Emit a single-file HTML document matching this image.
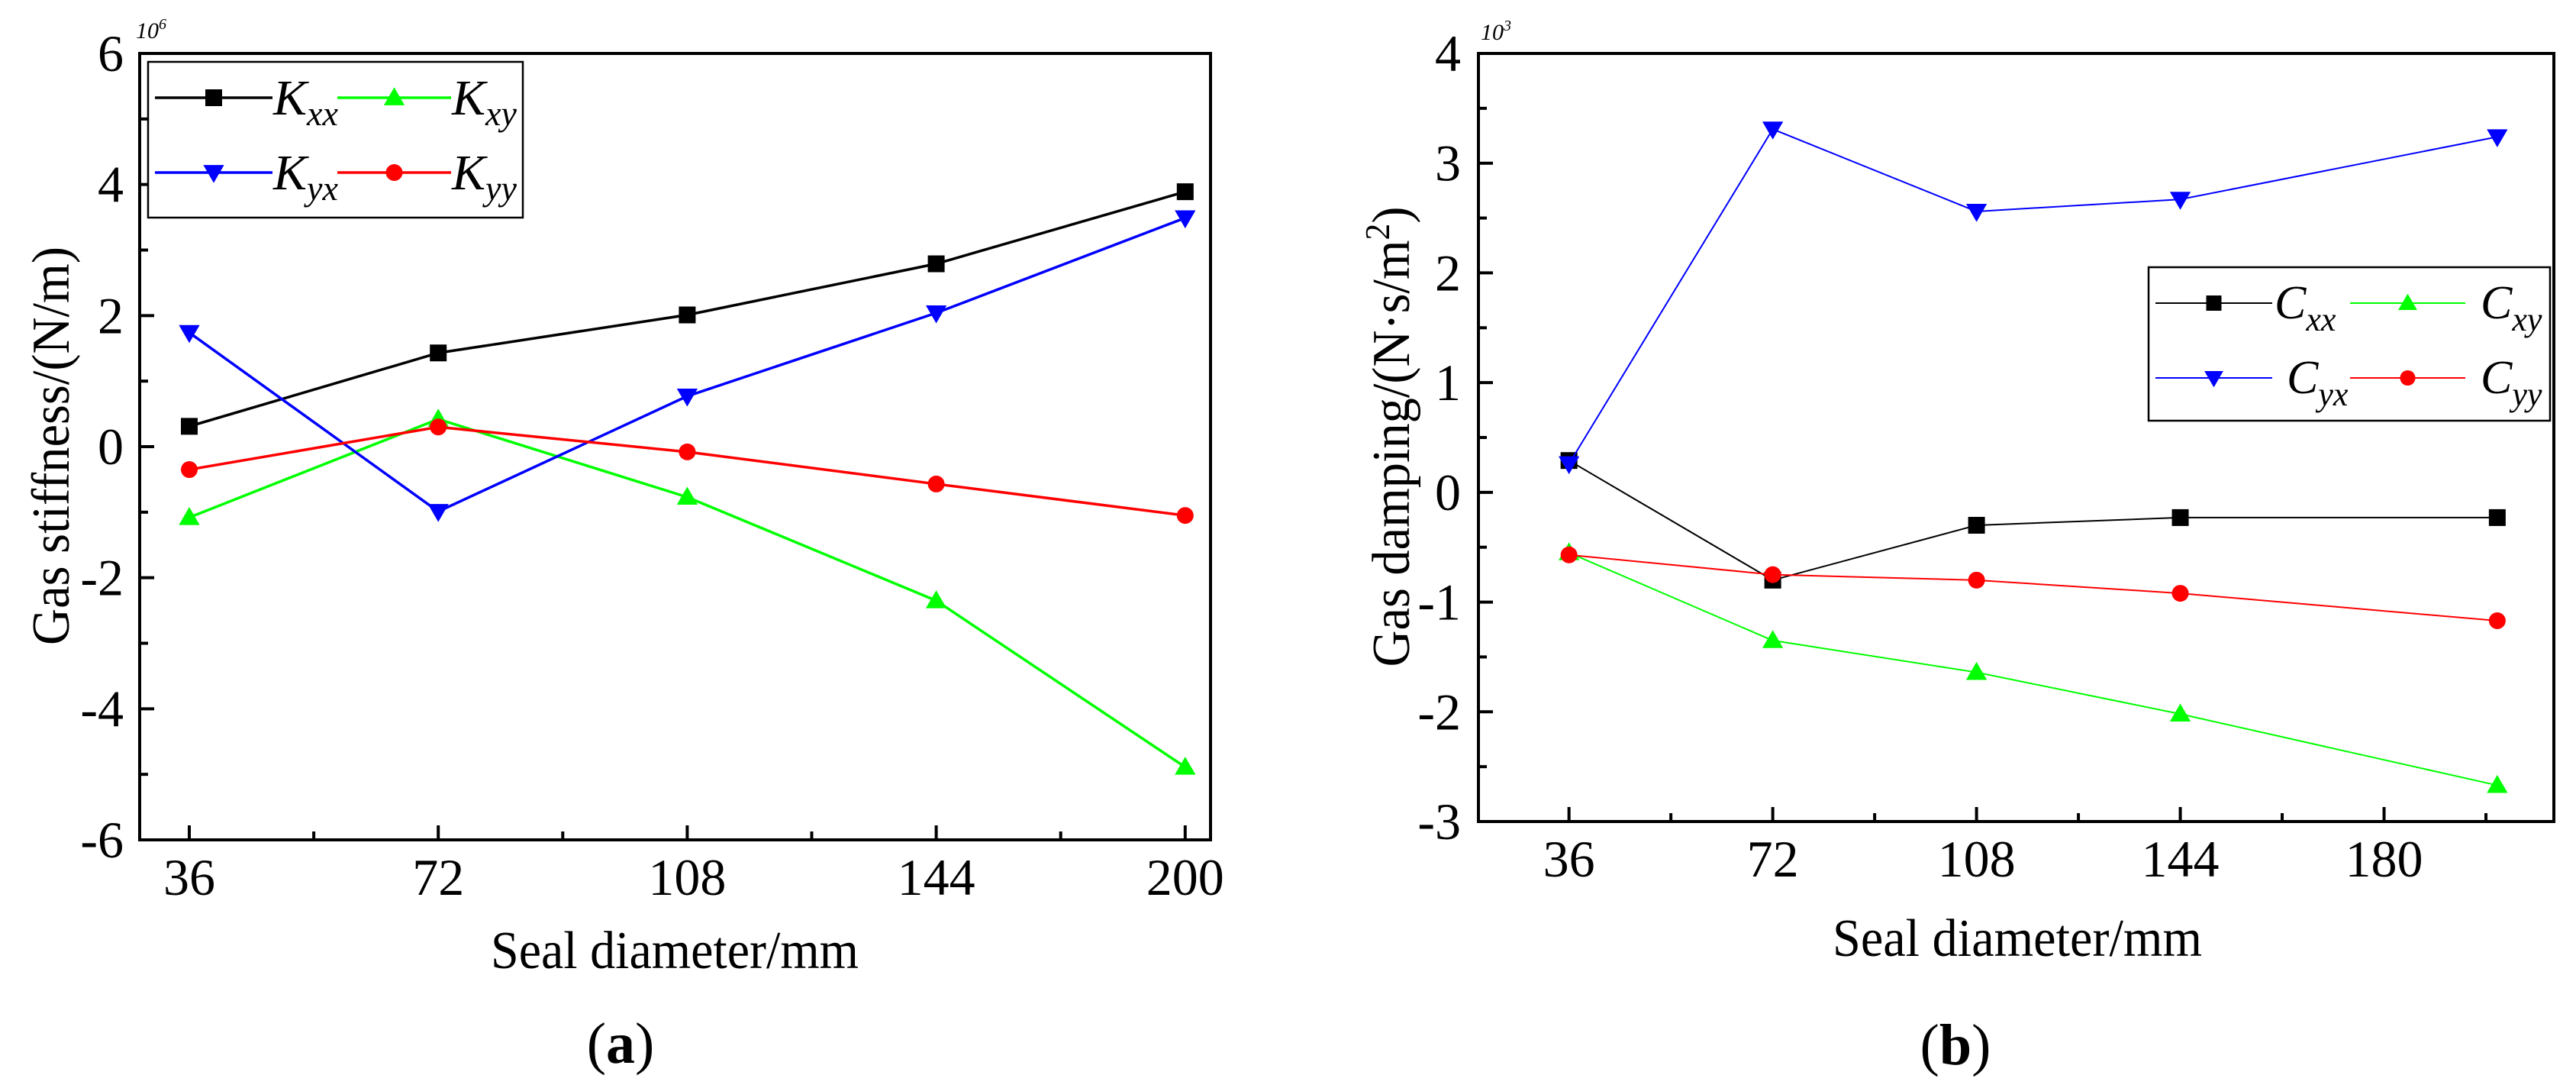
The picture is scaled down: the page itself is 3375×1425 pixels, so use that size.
<!DOCTYPE html>
<html><head><meta charset="utf-8"><style>
html,body{margin:0;padding:0;background:#fff;}
svg{display:block;font-family:"Liberation Serif",serif;}
</style></head><body>
<svg id="svg" width="3375" height="1425" viewBox="0 0 3375 1425" xmlns="http://www.w3.org/2000/svg"></svg>
<script>
// Chart (a) data
const catsA = ["36","72","108","144","200"];
const kxx = [0.31, 1.43, 2.01, 2.79, 3.89];
const kxy = [-1.08, 0.42, -0.77, -2.35, -4.89];
const kyx = [1.74, -0.99, 0.77, 2.04, 3.49];
const kyy = [-0.35, 0.30, -0.08, -0.57, -1.05];
const yTicksA = [6, 4, 2, 0, -2, -4, -6];
// Chart (b) data
const xValsB = [36, 72, 108, 144, 200];
const xTicksB = [36, 72, 108, 144, 180];
const cxx = [0.29, -0.80, -0.30, -0.23, -0.23];
const cxy = [-0.55, -1.35, -1.64, -2.02, -2.67];
const cyx = [0.26, 3.31, 2.56, 2.67, 3.24];
const cyy = [-0.57, -0.75, -0.80, -0.92, -1.17];
const yTicksB = [4, 3, 2, 1, 0, -1, -2, -3];

const NS = "http://www.w3.org/2000/svg";
const svg = document.getElementById("svg");
function mk(tag, attrs, parent) {
  const e = document.createElementNS(NS, tag);
  for (const k in attrs) e.setAttribute(k, attrs[k]);
  (parent || svg).appendChild(e);
  return e;
}
function marker(g, type, x, y, color, s) {
  let e;
  if (type === "sq") e = mk("rect", {x: x - s/2, y: y - s/2, width: s, height: s, fill: color}, g);
  else if (type === "up") e = mk("polygon", {points: `${x},${y - s*0.62} ${x - s*0.62},${y + s*0.45} ${x + s*0.62},${y + s*0.45}`, fill: color}, g);
  else if (type === "down") e = mk("polygon", {points: `${x},${y + s*0.62} ${x - s*0.62},${y - s*0.45} ${x + s*0.62},${y - s*0.45}`, fill: color}, g);
  else e = mk("circle", {cx: x, cy: y, r: s*0.5, fill: color}, g);
  
  
  return e;
}
function text(str, attrs, parent) {
  const t = mk("text", attrs, parent);
  t.textContent = str;
  return t;
}

// ---------- Chart A ----------
const A = {l: 183, r: 1586, t: 70, b: 1100};
const xA = i => 248 + i * 326.2;
const yA = v => A.t + (6 - v) * (A.b - A.t) / 12;
const gA = mk("g", {});



// ticks
yTicksA.forEach(v => {
  const y = yA(v);
  const tk = mk("line", {x1: A.l, x2: A.l + 19, y1: y, y2: y, stroke: "#000", "stroke-width": 4}, gA);
  
  
  const lb = text(String(v), {x: 162, y: y + 23, "text-anchor": "end", "font-size": 68}, gA);
  
  
  if (v > -6) {
    const ym = yA(v - 1);
    const mt = mk("line", {x1: A.l, x2: A.l + 11, y1: ym, y2: ym, stroke: "#000", "stroke-width": 4}, gA);
    
    
  }
});
catsA.forEach((c, i) => {
  const x = xA(i);
  const tk = mk("line", {x1: x, x2: x, y1: A.b, y2: A.b - 19, stroke: "#000", "stroke-width": 4}, gA);
  
  
  const lb = text(c, {x: x, y: 1172, "text-anchor": "middle", "font-size": 68}, gA);
  
  
  if (i < catsA.length - 1) {
    const xm = xA(i + 0.5);
    const mt = mk("line", {x1: xm, x2: xm, y1: A.b, y2: A.b - 11, stroke: "#000", "stroke-width": 4}, gA);
    
    
  }
});

const seriesA = [
  {d: kxx, c: "#000", m: "sq", n: "kxx"},
  {d: kxy, c: "#00ff00", m: "up", n: "kxy"},
  {d: kyx, c: "#0000ff", m: "down", n: "kyx"},
  {d: kyy, c: "#ff0000", m: "circ", n: "kyy"}
];
seriesA.forEach(s => {
  const g = mk("g", {}, gA);
  
  
  mk("polyline", {points: s.d.map((v, i) => xA(i) + "," + yA(v)).join(" "), fill: "none", stroke: s.c, "stroke-width": 3.5}, g);
  s.d.forEach((v, i) => marker(g, s.m, xA(i), yA(v), s.c, 22));
});
const frA = mk("rect", {x: A.l, y: A.t, width: A.r - A.l, height: A.b - A.t, fill: "none", stroke: "#000", "stroke-width": 4}, gA);



// legend A
const lgA = mk("g", {}, gA);


mk("rect", {x: 194, y: 81, width: 491, height: 204, fill: "#fff", stroke: "#000", "stroke-width": 2.5}, lgA);
const legA = [
  {s: seriesA[0], x1: 203, x2: 357, y: 128, sub: "xx"},
  {s: seriesA[1], x1: 442, x2: 591, y: 128, sub: "xy"},
  {s: seriesA[2], x1: 203, x2: 357, y: 226, sub: "yx"},
  {s: seriesA[3], x1: 442, x2: 591, y: 226, sub: "yy"}
];
legA.forEach(e => {
  const g = mk("g", {}, lgA);
  
  
  mk("line", {x1: e.x1, x2: e.x2, y1: e.y, y2: e.y, stroke: e.s.c, "stroke-width": 3.5}, g);
  marker(g, e.s.m, (e.x1 + e.x2) / 2, e.y, e.s.c, 22);
  const t = mk("text", {x: e.x2 + 1, y: e.y + 22, "font-size": 66, "font-style": "italic"}, g);
  t.innerHTML = 'K<tspan font-size="46" dy="14">' + e.sub + '</tspan>';
});

let t;
t = text("Gas stiffness/(N/m)", {x: 0, y: 0, transform: "translate(90,584) rotate(-90)", "text-anchor": "middle", "font-size": 70, textLength: 522, lengthAdjust: "spacingAndGlyphs"}, gA);
 
t = text("Seal diameter/mm", {x: 884, y: 1268, "text-anchor": "middle", "font-size": 70, textLength: 482, lengthAdjust: "spacingAndGlyphs"}, gA);
 
t = mk("text", {x: 178, y: 50, "font-size": 30, "font-style": "italic"}, gA);
t.innerHTML = '10<tspan font-size="20" dy="-12">6</tspan>';
 
t = mk("text", {x: 813, y: 1392, "text-anchor": "middle", "font-size": 76}, gA);
t.innerHTML = '(<tspan font-weight="bold">a</tspan>)';
 

// ---------- Chart B ----------
const B = {l: 1937, r: 3346, t: 70, b: 1076};
const xB = v => B.l + (v - 20) * (B.r - B.l) / 190;
const yB = v => B.t + (4 - v) * (B.b - B.t) / 7;
const gB = mk("g", {});



yTicksB.forEach(v => {
  const y = yB(v);
  const tk = mk("line", {x1: B.l, x2: B.l + 19, y1: y, y2: y, stroke: "#000", "stroke-width": 4}, gB);
  
  
  const lb = text(String(v), {x: 1914, y: y + 23, "text-anchor": "end", "font-size": 68}, gB);
  
  
  if (v > -3) {
    const ym = yB(v - 0.5);
    const mt = mk("line", {x1: B.l, x2: B.l + 11, y1: ym, y2: ym, stroke: "#000", "stroke-width": 4}, gB);
    
    
  }
});
xTicksB.forEach(v => {
  const x = xB(v);
  const tk = mk("line", {x1: x, x2: x, y1: B.b, y2: B.b - 19, stroke: "#000", "stroke-width": 4}, gB);
  
  
  const lb = text(String(v), {x: x, y: 1148, "text-anchor": "middle", "font-size": 68}, gB);
  
  
  const xm = xB(v + 18);
  const mt = mk("line", {x1: xm, x2: xm, y1: B.b, y2: B.b - 11, stroke: "#000", "stroke-width": 4}, gB);
  
  
});

const seriesB = [
  {d: cxx, c: "#000", m: "sq", n: "cxx"},
  {d: cxy, c: "#00ff00", m: "up", n: "cxy"},
  {d: cyx, c: "#0000ff", m: "down", n: "cyx"},
  {d: cyy, c: "#ff0000", m: "circ", n: "cyy"}
];
seriesB.forEach(s => {
  const g = mk("g", {}, gB);
  
  
  mk("polyline", {points: s.d.map((v, i) => xB(xValsB[i]) + "," + yB(v)).join(" "), fill: "none", stroke: s.c, "stroke-width": 2}, g);
  s.d.forEach((v, i) => marker(g, s.m, xB(xValsB[i]), yB(v), s.c, 22));
});
const frB = mk("rect", {x: B.l, y: B.t, width: B.r - B.l, height: B.b - B.t, fill: "none", stroke: "#000", "stroke-width": 4}, gB);



const lgB = mk("g", {}, gB);


mk("rect", {x: 2815, y: 350, width: 526, height: 201, fill: "#fff", stroke: "#000", "stroke-width": 2.5}, lgB);
const legB = [
  {s: seriesB[0], x1: 2824, x2: 2977, y: 397, tx: 2980, sub: "xx"},
  {s: seriesB[1], x1: 3079, x2: 3230, y: 397, tx: 3250, sub: "xy"},
  {s: seriesB[2], x1: 2824, x2: 2977, y: 495, tx: 2996, sub: "yx"},
  {s: seriesB[3], x1: 3079, x2: 3230, y: 495, tx: 3250, sub: "yy"}
];
legB.forEach(e => {
  const g = mk("g", {}, lgB);
  
  
  mk("line", {x1: e.x1, x2: e.x2, y1: e.y, y2: e.y, stroke: e.s.c, "stroke-width": 2}, g);
  marker(g, e.s.m, (e.x1 + e.x2) / 2, e.y, e.s.c, 20);
  const t2 = mk("text", {x: e.tx, y: e.y + 20, "font-size": 62, "font-style": "italic"}, g);
  t2.innerHTML = 'C<tspan font-size="44" dy="16">' + e.sub + '</tspan>';
});

t = mk("text", {x: 0, y: 0, transform: "translate(1846,572) rotate(-90)", "text-anchor": "middle", "font-size": 70, textLength: 603, lengthAdjust: "spacingAndGlyphs"}, gB);
t.innerHTML = 'Gas damping/(N·s/m<tspan font-size="46" dy="-26">2</tspan><tspan dy="26">)</tspan>';
 
t = text("Seal diameter/mm", {x: 2643, y: 1252, "text-anchor": "middle", "font-size": 70, textLength: 484, lengthAdjust: "spacingAndGlyphs"}, gB);
 
t = mk("text", {x: 1940, y: 52, "font-size": 30, "font-style": "italic"}, gB);
t.innerHTML = '10<tspan font-size="20" dy="-12">3</tspan>';
 
t = mk("text", {x: 2562, y: 1394, "text-anchor": "middle", "font-size": 76}, gB);
t.innerHTML = '(<tspan font-weight="bold">b</tspan>)';
 
</script>
</body></html>
